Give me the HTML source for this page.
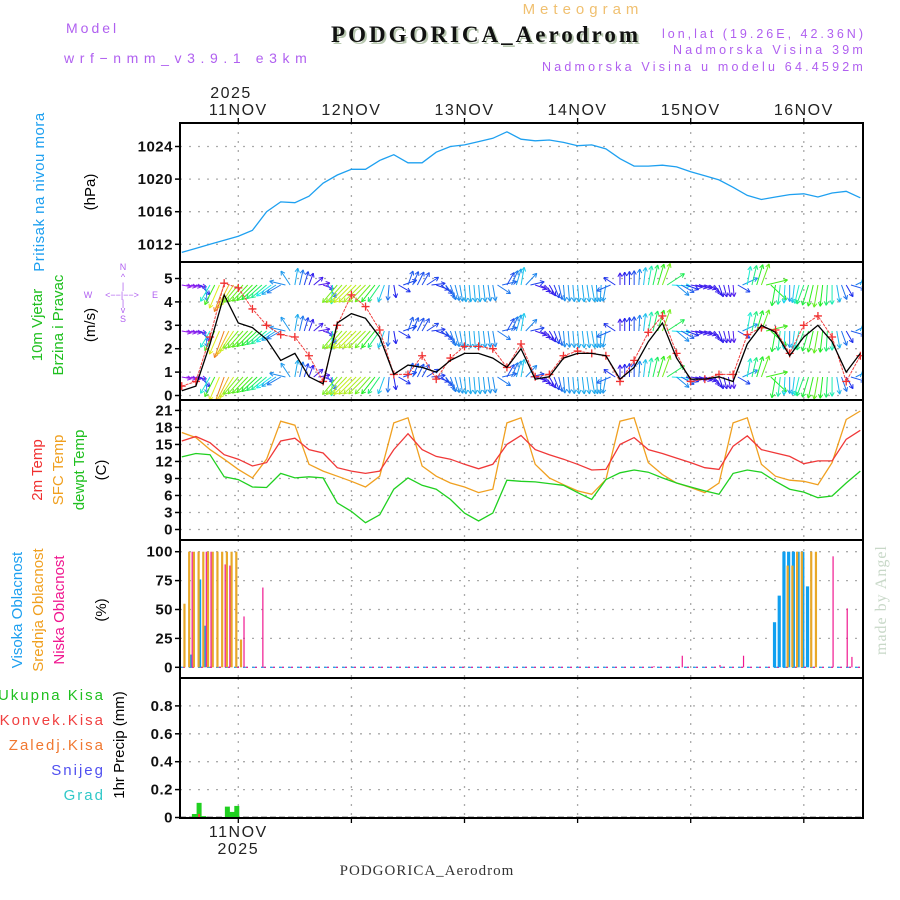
<!DOCTYPE html>
<html><head><meta charset="utf-8"><style>
html,body{margin:0;padding:0;background:#fff;}
svg{display:block;font-family:"Liberation Sans",sans-serif;}
</style></head><body>
<svg id="chart" width="900" height="900" viewBox="0 0 900 900" xmlns="http://www.w3.org/2000/svg">
<defs>
<clipPath id="clipW"><rect x="180" y="263" width="683" height="136"/></clipPath>
<clipPath id="clipAll"><rect x="180" y="123" width="683" height="695"/></clipPath>
</defs>
<g>
<text x="66" y="33" fill="#b060f0" font-size="14" letter-spacing="3">Model</text>
<text x="64" y="63" fill="#b060f0" font-size="14" letter-spacing="5.6">wrf−nmm_v3.9.1 e3km</text>
<text x="583" y="14" fill="#f0c070" font-size="15" text-anchor="middle" letter-spacing="5">Meteogram</text>
<text x="488" y="44" fill="#b8c8b0" font-size="23" font-weight="bold" text-anchor="middle" font-family="Liberation Serif, serif" letter-spacing="3">PODGORICA_Aerodrom</text>
<text x="486" y="42" fill="#111" font-size="23" font-weight="bold" text-anchor="middle" font-family="Liberation Serif, serif" letter-spacing="3">PODGORICA_Aerodrom</text>
<text x="866" y="38" fill="#b060f0" font-size="12.5" text-anchor="end" letter-spacing="3">lon,lat (19.26E, 42.36N)</text>
<text x="866" y="54" fill="#b060f0" font-size="12.5" text-anchor="end" letter-spacing="3.2">Nadmorska Visina 39m</text>
<text x="866" y="71" fill="#b060f0" font-size="12.5" text-anchor="end" letter-spacing="3.2">Nadmorska Visina u modelu 64.4592m</text>
<text x="231" y="98" fill="#222" font-size="16" text-anchor="middle" letter-spacing="1.5">2025</text>
<text x="427" y="875" fill="#333" font-size="15" text-anchor="middle" font-family="Liberation Serif, serif" letter-spacing="1">PODGORICA_Aerodrom</text>
<text transform="translate(886,655) rotate(-90)" fill="#c8d8c8" font-size="16" font-family="Liberation Serif, serif" letter-spacing="1">made by Angel</text>
</g>
<g font-size="15">
<text transform="translate(44,192) rotate(-90)" fill="#1ea0f0" text-anchor="middle" letter-spacing="0.5">Pritisak na nivou mora</text>
<text transform="translate(95,192) rotate(-90)" fill="#000" text-anchor="middle">(hPa)</text>
<text transform="translate(42,325) rotate(-90)" fill="#20c020" text-anchor="middle">10m Vjetar</text>
<text transform="translate(63,325) rotate(-90)" fill="#20c020" text-anchor="middle">Brzina i Pravac</text>
<text transform="translate(95,325) rotate(-90)" fill="#000" text-anchor="middle">(m/s)</text>
<g fill="#b060f0" font-size="9" text-anchor="middle">
<text x="123" y="270">N</text><text x="123" y="280">^</text><text x="123" y="289">|</text>
<text x="88" y="298">W</text><text x="122" y="298">&lt;−−|−−&gt;</text><text x="155" y="298">E</text>
<text x="123" y="306">|</text><text x="123" y="313">v</text><text x="123" y="322">S</text>
</g>
<text transform="translate(42,470) rotate(-90)" fill="#f03030" text-anchor="middle">2m Temp</text>
<text transform="translate(63,470) rotate(-90)" fill="#f0a020" text-anchor="middle">SFC Temp</text>
<text transform="translate(84,470) rotate(-90)" fill="#20c020" text-anchor="middle">dewpt Temp</text>
<text transform="translate(106,470) rotate(-90)" fill="#000" text-anchor="middle">(C)</text>
<text transform="translate(22,610) rotate(-90)" fill="#1ea0f0" text-anchor="middle">Visoka Oblacnost</text>
<text transform="translate(43,610) rotate(-90)" fill="#f0a020" text-anchor="middle">Srednja Oblacnost</text>
<text transform="translate(64,610) rotate(-90)" fill="#f01890" text-anchor="middle">Niska Oblacnost</text>
<text transform="translate(106,610) rotate(-90)" fill="#000" text-anchor="middle">(%)</text>
<text x="105" y="700" fill="#20c020" text-anchor="end" letter-spacing="2">Ukupna Kisa</text>
<text x="105" y="725" fill="#f04040" text-anchor="end" letter-spacing="2">Konvek.Kisa</text>
<text x="105" y="750" fill="#f07830" text-anchor="end" letter-spacing="2">Zaledj.Kisa</text>
<text x="105" y="775" fill="#5050f0" text-anchor="end" letter-spacing="2">Snijeg</text>
<text x="105" y="800" fill="#30c8c8" text-anchor="end" letter-spacing="2">Grad</text>
<text transform="translate(124,745) rotate(-90)" fill="#000" text-anchor="middle">1hr Precip (mm)</text>
</g>
<g id="grid"></g>
<g id="marks"></g>
<g id="frames"></g>
</svg>
<script>
const hours = [-12,-9,-6,-3,0,3,6,9,12,15,18,21,24,27,30,33,36,39,42,45,48,51,54,57,60,63,66,69,72,75,78,81,84,87,90,93,96,99,102,105,108,111,114,117,120,123,126,129,132];
const pressure = [1011.0,1011.5,1012.0,1012.5,1013.0,1013.7,1016.0,1017.2,1017.1,1017.9,1019.5,1020.5,1021.2,1021.2,1022.3,1023.0,1022.0,1022.0,1023.3,1024.0,1024.2,1024.6,1025.0,1025.8,1024.9,1024.7,1024.8,1024.5,1024.1,1024.2,1023.7,1022.5,1021.6,1021.6,1021.7,1021.5,1020.9,1020.4,1019.9,1019.0,1018.0,1017.5,1017.8,1018.1,1018.2,1017.8,1018.3,1018.5,1017.7];
const windSpeed = [0.2,0.4,2.2,4.3,3.1,2.9,2.4,1.5,1.8,0.8,0.5,3.1,3.5,3.3,2.5,0.9,1.3,1.2,1.0,1.5,1.8,1.8,1.6,1.2,2.0,0.7,0.8,1.6,1.8,1.8,1.7,0.7,1.2,2.3,3.1,1.6,0.7,0.7,0.8,0.6,2.2,3.0,2.7,1.7,2.5,3.0,2.3,1.0,1.8];
const windGust = [0.4,0.6,2.5,4.8,4.6,3.7,3.0,2.6,2.5,1.7,0.6,3.0,4.3,3.8,2.8,0.9,0.9,1.7,0.7,1.6,2.1,2.1,2.0,1.2,2.2,0.8,0.9,1.7,1.9,1.8,1.7,0.6,1.5,2.7,3.4,1.8,0.6,0.7,0.9,0.9,2.6,2.9,2.8,1.8,3.0,3.4,2.5,0.6,1.7];
const windDir = [100,100,210,200,220,225,230,240,10,20,110,220,225,225,215,170,20,30,110,160,175,175,170,30,10,110,150,175,175,170,190,0,0,10,20,130,100,110,160,175,10,20,190,180,200,190,180,150,20];
const temp2m = [15.6,16.4,15.3,13.2,12.4,11.2,11.8,15.6,16.1,14.1,13.5,10.9,10.3,9.9,10.3,14.1,16.9,14.1,12.9,12.4,11.5,10.7,11.5,15.0,16.6,14.1,13.2,12.4,11.5,10.5,10.6,15.0,16.2,14.1,13.4,12.6,11.8,10.9,10.6,14.7,16.5,14.1,13.5,12.9,11.6,12.1,12.1,15.9,17.5];
const tempSfc = [17.1,16.2,14.1,12.4,10.6,9.1,12.4,19.1,18.4,11.5,10.3,9.4,8.5,7.5,9.4,18.8,19.7,11.2,9.4,8.2,7.5,6.5,7.1,18.8,19.7,11.5,9.1,7.9,6.8,6.2,8.8,19.1,19.7,11.8,9.7,8.2,7.4,6.5,8.2,18.8,19.7,11.5,9.4,8.7,8.5,7.9,11.8,19.4,20.9];
const dewpt = [12.8,13.4,13.2,9.3,8.8,7.5,7.4,9.9,9.1,9.3,9.1,4.7,3.2,1.2,2.6,7.1,9.1,7.8,7.1,5.3,2.9,1.5,2.9,8.7,8.5,8.4,8.1,7.8,6.5,5.3,8.8,10.0,10.5,10.1,9.1,8.2,7.5,6.8,6.2,9.9,10.5,10.1,8.5,7.1,6.6,5.6,5.9,8.2,10.3];
const cloudHighHours = [-10,-8,-7,114,115,116,117,118,119,120,121];
const cloudHighValues = [11,76,36,39,62,100,100,100,100,100,70];
const cloudMidHours = [-11,-10,-9,-8,-7,-6,-5,-4,-3,-2,-1,0,1,117,118,119,120,122,123];
const cloudMidValues = [55,100,100,100,100,100,100,100,100,100,100,100,24,88,88,100,100,100,100];
const cloudLowHours = [-10,-7,-6,-3,-2,1,5,88,94,102,107,126,129,130];
const cloudLowValues = [100,100,100,89,88,44,69,1,10,2,10,96,51,9];
const precipHours = [-9,-8,-7,-2,-1,0];
const precipTotal = [0.025,0.105,0.01,0.078,0.04,0.083];
const precipConv = [0,0.025,0,0,0,0];
const dayTicks = [0,24,48,72,96,120];
const dayLabels = ["11NOV","12NOV","13NOV","14NOV","15NOV","16NOV"];
const pTicks = [1012,1016,1020,1024];
const wTicks = [0,1,2,3,4,5];
const tTicks = [0,3,6,9,12,15,18,21];
const cTicks = [0,25,50,75,100];
const rTicks = [0,0.2,0.4,0.6,0.8];

const NS='http://www.w3.org/2000/svg';
const X0=180, X1=863;
function xOf(h){return 238.3 + h*113.1/24;}
function yP(v){return 146.5 + (1024-v)*8.15;}
function yW(v){return 395.5 - v*23.4;}
function yT(v){return 529.5 - v*5.67;}
function yC(v){return 667.3 - v*1.156;}
function yR(v){return 817.5 - v*139.5;}
const panels=[{t:123,b:262,ticks:pTicks,f:yP,fmt:v=>String(v),name:'pressure'},
{t:262,b:400,ticks:wTicks,f:yW,fmt:v=>String(v),name:'wind'},
{t:400,b:540,ticks:tTicks,f:yT,fmt:v=>String(v),name:'temp'},
{t:540,b:678,ticks:cTicks,f:yC,fmt:v=>String(v),name:'cloud'},
{t:678,b:818,ticks:rTicks,f:yR,fmt:v=>v===0?'0':v.toFixed(1),name:'precip'}];
function mk(tag,attrs,parent){const e=document.createElementNS(NS,tag);for(const k in attrs)e.setAttribute(k,attrs[k]);parent.appendChild(e);return e;}
const grid=document.getElementById('grid'), marks=document.getElementById('marks'), frames=document.getElementById('frames');

panels.forEach(p=>{
  p.ticks.forEach(v=>{
    const y=p.f(v);
    const gl=mk('line',{x1:X0,x2:X1,y1:y,y2:y,stroke:'#aaa','stroke-width':1.3,'stroke-dasharray':'2,7'},grid);
    
    
    mk('line',{x1:X0-5,x2:X0,y1:y,y2:y,stroke:'#000','stroke-width':1.5},grid);
    const t=mk('text',{x:X0-7,y:y+5,'text-anchor':'end','font-size':15,fill:'#111','font-weight':'bold','letter-spacing':'0.5'},grid);
    t.textContent=p.fmt(v);
    
    
  });
  dayTicks.forEach(h=>{
    const x=xOf(h);
    mk('line',{x1:x,x2:x,y1:p.t,y2:p.b,stroke:'#aaa','stroke-width':1.3,'stroke-dasharray':'2,7'},grid);
  });
});
dayTicks.forEach((h,i)=>{
  const x=xOf(h);
  mk('line',{x1:x,x2:x,y1:118,y2:123,stroke:'#000','stroke-width':1.3},grid);
  mk('line',{x1:x,x2:x,y1:818,y2:823,stroke:'#000','stroke-width':1.3},grid);
  const t=mk('text',{x:x,y:115,'text-anchor':'middle','font-size':16,fill:'#222','letter-spacing':'1.5'},grid);
  t.textContent=dayLabels[i];
  
  
});
const b1=mk('text',{x:xOf(0),y:837,'text-anchor':'middle','font-size':16,fill:'#222','letter-spacing':'1.5'},grid);b1.textContent=dayLabels[0];


const b2=mk('text',{x:xOf(0),y:854,'text-anchor':'middle','font-size':16,fill:'#222','letter-spacing':'1.5'},grid);b2.textContent='2025';



function poly(vals,f,color,w,name){
  const pts=hours.map((h,i)=>xOf(h).toFixed(1)+','+f(vals[i]).toFixed(1)).join(' ');
  const pl=mk('polyline',{points:pts,fill:'none',stroke:color,'stroke-width':w,'clip-path':'url(#clipAll)'},marks);
  
  
  return pl;
}
poly(pressure,yP,'#1ea0f0',1.3,'pressure-line');

function hueFor(s){const st=[[0,285],[1,235],[2,190],[3,100],[4,40],[5,0]];
  if(s<=0)return 285; for(let i=1;i<st.length;i++){if(s<=st[i][0]){const a=st[i-1],b=st[i];return a[1]+(b[1]-a[1])*(s-a[0])/(b[0]-a[0]);}} return 0;}
const arrowG=mk('g',{'clip-path':'url(#clipW)'},marks);


const rows=[285,331,377];
for(let i=0;i<hours.length;i++){
  const n=(i<hours.length-1)?3:1;
  for(let k=0;k<n;k++){
    const j=Math.min(i+1,hours.length-1), fr=k/3;
    let d0=windDir[i], d1=windDir[j], dd=((d1-d0+540)%360)-180;
    const dir=d0+dd*fr, s=windSpeed[i]+(windSpeed[j]-windSpeed[i])*fr;
    const h=hours[i]+3*fr, x=xOf(h);
    const len=9+4.5*s, a=dir*Math.PI/180;
    const dx=Math.sin(a)*len, dy=-Math.cos(a)*len;
    const col='hsl('+hueFor(s).toFixed(0)+',85%,52%)';
    rows.forEach(r=>{
      const ex=x+dx, ey=r+dy;
      mk('line',{x1:x,y1:r,x2:ex,y2:ey,stroke:col,'stroke-width':1},arrowG);
      const ha=Math.atan2(dy,dx);
      [0.5,-0.5].forEach(o=>{mk('line',{x1:ex,y1:ey,x2:ex-4.5*Math.cos(ha+o),y2:ey-4.5*Math.sin(ha+o),stroke:col,'stroke-width':1},arrowG);});
    });
  }
}
const gl=poly(windGust,yW,'#f04040',1,'wind-gust-line');
gl.setAttribute('stroke-dasharray','3,1');
hours.forEach((h,i)=>{
  const x=xOf(h), y=yW(windGust[i]);
  const m=mk('path',{d:`M${x-4},${y}H${x+4}M${x},${y-4}V${y+4}`,stroke:'#f03030','stroke-width':1.3,fill:'none','clip-path':'url(#clipW)'},marks);
  
  
});
poly(windSpeed,yW,'#000',1.3,'wind-speed-line');

poly(tempSfc,yT,'#f0a020',1.3,'sfc-temp-line');
poly(temp2m,yT,'#f03838',1.3,'2m-temp-line');
poly(dewpt,yT,'#20d020',1.3,'dewpt-line');

const zero=yC(0);
mk('line',{x1:X0,x2:X1,y1:zero,y2:zero,stroke:'#1ea0f0','stroke-width':1.2,'stroke-dasharray':'5,4'},marks);
mk('line',{x1:X0+3,x2:X1,y1:zero,y2:zero,stroke:'#f01890','stroke-width':1.2,'stroke-dasharray':'2,7'},marks);
function bars(hs,vals,color,w,off,name){
  hs.forEach((h,i)=>{
    const x=xOf(h)+off, y=yC(vals[i]);
    const r=mk('rect',{x:x-w/2,y:y,width:w,height:zero-y,fill:color},marks);
    
    
  });
}
bars(cloudHighHours,cloudHighValues,'#10a0f0',3.2,-1,'cloud-high-bar');
bars(cloudMidHours,cloudMidValues,'#e8a828',2.2,-2,'cloud-mid-bar');
bars(cloudLowHours,cloudLowValues,'#f01890',1.2,1,'cloud-low-bar');

const pz=yR(0);
mk('line',{x1:X0,x2:X1,y1:pz,y2:pz,stroke:'#000','stroke-width':1.5,'stroke-dasharray':'6,3'},marks);
precipHours.forEach((h,i)=>{
  const x=xOf(h)-1.5;
  const r=mk('rect',{x:x-2.5,y:yR(precipTotal[i]),width:5,height:pz-yR(precipTotal[i]),fill:'#20d020'},marks);
  
  
  if(precipConv[i]>0){
    const c=mk('rect',{x:x-1,y:yR(precipConv[i]),width:2,height:pz-yR(precipConv[i]),fill:'#f04040'},marks);
    
    
  }
});

panels.forEach(p=>{
  const r=mk('rect',{x:X0,y:p.t,width:X1-X0,height:p.b-p.t,fill:'none',stroke:'#000','stroke-width':2},frames);
  
  
});
</script>
</body></html>
